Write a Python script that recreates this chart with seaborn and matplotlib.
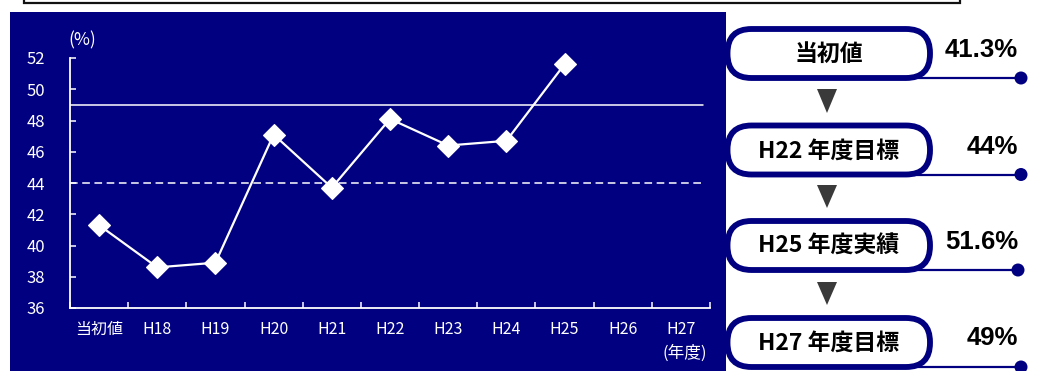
import numpy as np
import pandas as pd
import matplotlib
matplotlib.use("Agg")
import matplotlib.pyplot as plt
import seaborn as sns
from matplotlib.patches import Rectangle, FancyBboxPatch, Polygon, Circle

# ---- data ----
categories = ["当初値", "H18", "H19", "H20", "H21", "H22", "H23", "H24", "H25", "H26", "H27"]
rates = [41.3, 38.6, 38.9, 47.1, 43.7, 48.1, 46.4, 46.7, 51.6]
target_final = 49.0
target_mid = 44.0
yticks = [36, 38, 40, 42, 44, 46, 48, 50, 52]
box_labels = ["当初値", "H22 年度目標", "H25 年度実績", "H27 年度目標"]
box_values = ["41.3%", "44%", "51.6%", "49%"]

sns.set_theme(style="white")
plt.rcParams['font.family'] = ['Noto Sans CJK JP', 'DejaVu Sans']

NAVY = "#000080"
W, H = 1055, 371
fig = plt.figure(figsize=(W / 100, H / 100), dpi=100)
fig.patch.set_facecolor("white")

# background overlay in pixel coordinates
bg = fig.add_axes([0, 0, 1, 1], zorder=0)
bg.set_xlim(0, W)
bg.set_ylim(H, 0)
bg.axis("off")

# top white box border
bg.add_patch(Rectangle((24, -10), 936, 12.5, facecolor="white", edgecolor="#111111", lw=1.6))
# navy panel
bg.add_patch(Rectangle((10, 12), 716, 370, facecolor=NAVY, edgecolor="none"))

# right side boxes
box_cy = [53.5, 150, 245.5, 342.5]
box_h = 49
x0, x1 = 727.5, 930
dot_x = [1021, 1021, 1018, 1021]
val_y = [50, 147, 242, 338]
for i, (cy, lab, val) in enumerate(zip(box_cy, box_labels, box_values)):
    yb = cy + box_h / 2
    bg.plot([900, dot_x[i]], [yb, yb], color=NAVY, lw=1.6, zorder=2, solid_capstyle="butt")
    bg.add_patch(Circle((dot_x[i], yb), 6.5, facecolor=NAVY, edgecolor="none", zorder=3))
    bg.add_patch(FancyBboxPatch((x0, cy - box_h / 2), x1 - x0, box_h,
                                boxstyle="round,pad=0,rounding_size=24",
                                facecolor="white", edgecolor=NAVY, lw=4.2, zorder=4))
    bg.text(829, cy + 1, lab, ha="center", va="center", fontsize=16.5,
            fontweight="bold", color="black", zorder=5)
    bg.text(1018, val_y[i], val, ha="right", va="center", fontsize=18.5,
            fontweight="bold", color="black", family=["Liberation Sans", "DejaVu Sans"], zorder=5)

# arrows
for ty in [(89, 113), (185, 208), (282, 305)]:
    bg.add_patch(Polygon([[817, ty[0]], [837, ty[0]], [827, ty[1]]], closed=True,
                         facecolor="#3a3a3a", edgecolor="none", zorder=3))

# main chart
ax = fig.add_axes([70 / W, (H - 308) / H, 640 / W, 250 / H], zorder=1)
ax.set_facecolor("none")
df = pd.DataFrame({"x": np.arange(len(rates)), "rate": rates})
ax.axhline(target_final, xmin=0, xmax=633 / 640, color="white", lw=1.1)
ax.axhline(target_mid, xmin=0, xmax=634 / 640, color="white", lw=1.1, dashes=(5, 3))
sns.lineplot(data=df, x="x", y="rate", ax=ax, color="white", lw=1.6,
             marker="D", markersize=11, markeredgecolor="white", markeredgewidth=0.8,
             clip_on=False)

ax.set_xlim(-0.5, len(categories) - 0.5)
ax.set_ylim(36, 52)
ax.set_yticks(yticks)
ax.set_yticklabels([str(v) for v in yticks])
ax.set_xticks(np.arange(len(categories)))
ax.set_xticklabels(categories)
ax.set_xticks(np.arange(len(categories) + 1) - 0.5, minor=True)
ax.tick_params(axis="x", which="major", length=0, pad=9, labelsize=11.5, labelcolor="white")
ax.tick_params(axis="x", which="minor", direction="in", length=4.5, width=1.1, color="white", bottom=True)
ax.tick_params(axis="y", direction="in", length=4.5, width=1.1, color="white", pad=18,
               labelsize=12, labelcolor="white", left=True)
for s in ["top", "right"]:
    ax.spines[s].set_visible(False)
for s in ["left", "bottom"]:
    ax.spines[s].set_color("white")
    ax.spines[s].set_linewidth(1.3)
ax.set_xlabel("")
ax.set_ylabel("")
ax.grid(False)

bg.text(82, 40, "(%)", ha="center", va="center", fontsize=12.5, color="white", zorder=5)
bg.text(685, 353, "(年度)", ha="center", va="center", fontsize=12, color="white", zorder=5)

fig.savefig("out.png", dpi=100, facecolor="white")
